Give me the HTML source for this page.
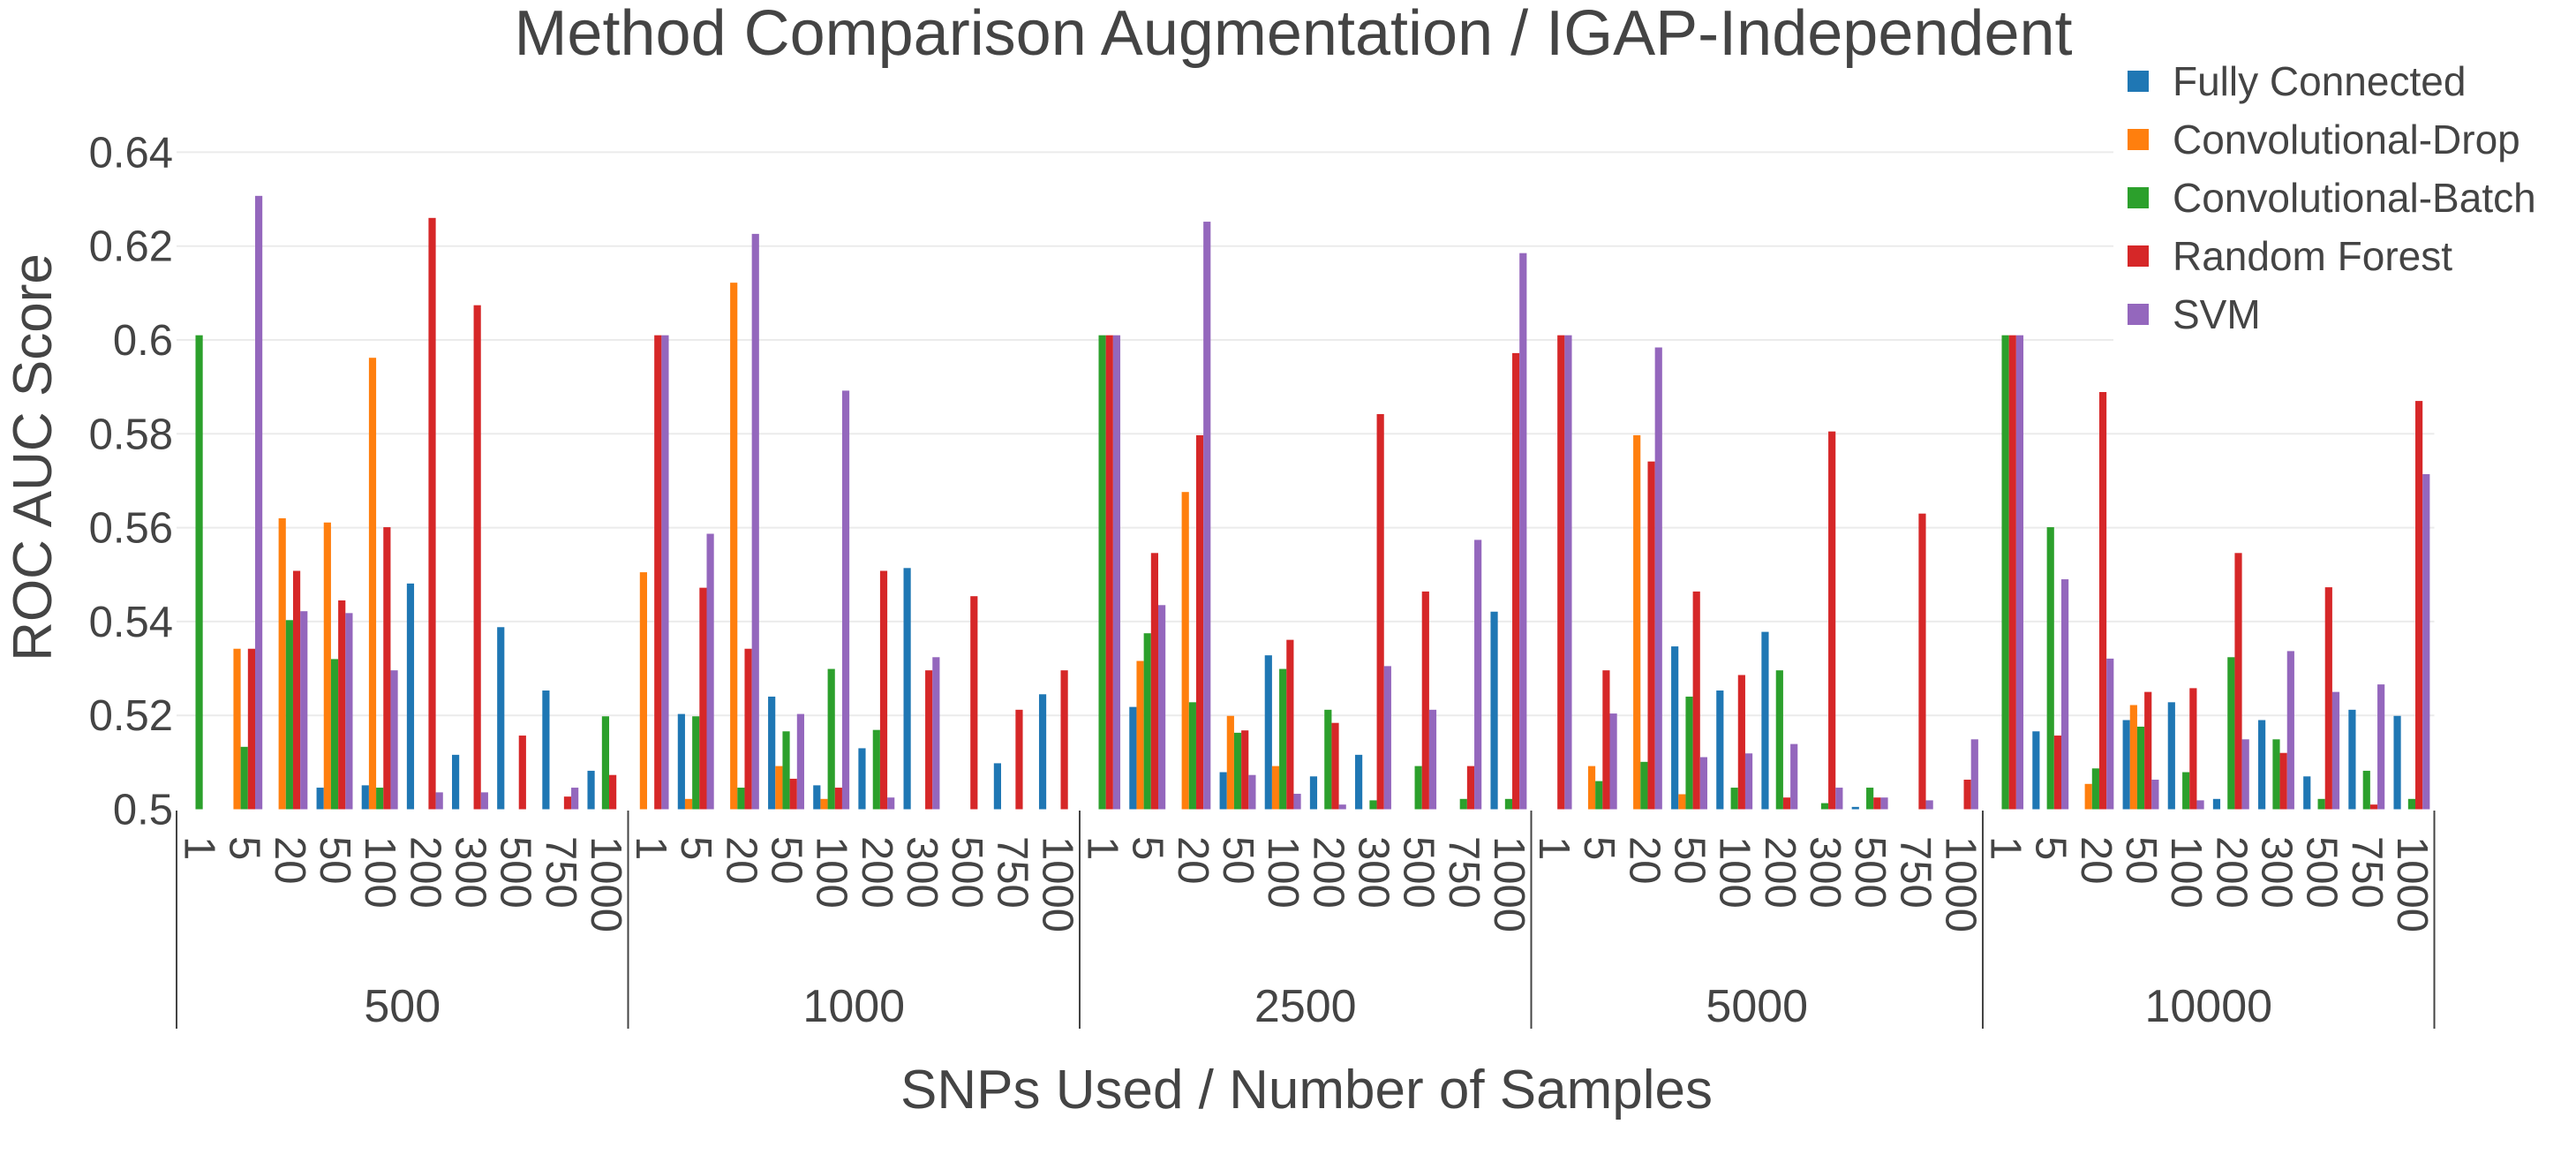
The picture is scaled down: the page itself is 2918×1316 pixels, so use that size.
<!DOCTYPE html>
<html><head><meta charset="utf-8"><style>
html,body{margin:0;padding:0;background:#fff;}
svg{display:block;font-family:"Liberation Sans",Arial,sans-serif;}
</style></head><body>
<svg id="chart" width="2918" height="1316" viewBox="0 0 2918 1316" xmlns="http://www.w3.org/2000/svg">
<rect width="2918" height="1316" fill="#fff"/>
<g id="grid"></g>
<g id="bars"></g>
<g id="xaxis"></g>
<g id="yaxis"></g>
<text x="1465" y="62" font-size="72" fill="#444" text-anchor="middle">Method Comparison Augmentation / IGAP-Independent</text>
<text transform="translate(58,518) rotate(-90)" font-size="62" fill="#444" text-anchor="middle">ROC AUC Score</text>
<text x="1480" y="1255" font-size="62" fill="#444" text-anchor="middle">SNPs Used / Number of Samples</text>
<g id="legend"></g>
</svg>
<script>
const groups = ["500","1000","2500","5000","10000"];
const snps = ["1","5","20","50","100","200","300","500","750","1000"];
const seriesNames = ["Fully Connected","Convolutional-Drop","Convolutional-Batch","Random Forest","SVM"];
const yTicks = [0.5,0.52,0.54,0.56,0.58,0.6,0.62,0.64];
const yTickLabels = ["0.5","0.52","0.54","0.56","0.58","0.6","0.62","0.64"];
const fullyConnected = [null,null,null,0.5046,0.5051,0.5481,0.5116,0.5388,0.5253,0.5082,
 null,0.5203,null,0.524,0.5051,0.513,0.5514,null,0.5098,0.5245,
 null,0.5218,null,0.5079,0.5328,0.507,0.5116,null,null,0.5421,
 null,null,null,0.5347,0.5253,0.5378,null,0.5005,null,null,
 null,0.5166,null,0.519,0.5228,0.5022,0.519,0.507,0.5212,0.5199];
const convDrop = [null,0.5342,0.562,0.5611,0.5962,null,null,null,null,null,
 0.5505,0.5022,0.6122,0.5092,0.5022,null,null,null,null,null,
 null,0.5316,0.5676,0.5199,0.5092,null,null,null,null,null,
 null,0.5092,0.5797,0.5032,null,null,null,null,null,null,
 null,null,0.5054,0.5222,null,null,null,null,null,null];
const convBatch = [0.601,0.5133,0.5403,0.532,0.5046,null,null,null,null,0.5198,
 null,0.5198,0.5046,0.5166,0.5299,0.5169,null,null,null,null,
 0.601,0.5375,0.5228,0.5163,0.5299,0.5212,0.5019,0.5092,0.5022,0.5022,
 null,0.506,0.5101,0.524,0.5046,0.5296,0.5013,0.5046,null,null,
 0.601,0.5601,0.5087,0.5176,0.5079,0.5324,0.5149,0.5022,0.5082,0.5022];
const randomForest = [null,0.5342,0.5508,0.5445,0.5601,0.626,0.6074,0.5157,0.5027,0.5073,
 0.601,0.5472,0.5342,0.5065,0.5046,0.5508,0.5296,0.5454,0.5212,0.5296,
 0.601,0.5546,0.5797,0.5168,0.5361,0.5184,0.5842,0.5464,0.5092,0.5972,
 0.601,0.5296,0.5741,0.5464,0.5286,0.5025,0.5805,0.5025,0.563,0.5063,
 0.601,0.5157,0.5889,0.525,0.5258,0.5546,0.512,0.5473,0.501,0.587];
const svm = [null,0.6307,0.5422,0.5418,0.5296,0.5036,0.5036,null,0.5046,null,
 0.601,0.5587,0.6226,0.5203,0.5892,0.5025,0.5324,null,null,null,
 0.601,0.5435,0.6252,0.5073,0.5033,0.501,0.5305,0.5212,0.5574,0.6185,
 0.601,0.5204,0.5984,0.5111,0.5119,0.5139,0.5046,0.5025,0.5019,0.5149,
 0.601,0.549,0.5321,0.5063,0.5019,0.5149,0.5337,0.525,0.5266,0.5714];

const seriesValues = [fullyConnected, convDrop, convBatch, randomForest, svm];
const colors = ["#1f77b4","#ff7f0e","#2ca02c","#d62728","#9467bd"];
const NS = "http://www.w3.org/2000/svg";
const X0 = 200, CAT_W = 51.15, Y_BASE = 916.5, PX_PER_UNIT = 106.3/0.02, Y_MIN = 0.5;
const nCats = groups.length * snps.length;
const X1 = X0 + nCats * CAT_W;
function yScale(v){ return Y_BASE - (v - Y_MIN) * PX_PER_UNIT; }
function xCat(i){ return X0 + i * CAT_W; }
function mk(tag, attrs, parent){ const e=document.createElementNS(NS,tag); for(const k in attrs) e.setAttribute(k, attrs[k]); parent.appendChild(e); return e; }

const grid = document.getElementById('grid');
const yaxis = document.getElementById('yaxis');
yTicks.forEach((t, i) => {
  const y = yScale(t);
  if (i > 0) {
    const right = y < 400 ? 2394 : X1;
    const l = mk('line', {x1:X0, x2:right, y1:y, y2:y, stroke:'#ebebeb', 'stroke-width':2}, grid);
    
    
  }
  const tx = mk('text', {x:196, y:y+17, 'font-size':49, fill:'#444', 'text-anchor':'end'}, yaxis);
  tx.textContent = yTickLabels[i];
  
  
});

const bars = document.getElementById('bars');
const barW = CAT_W * 0.8 / seriesValues.length;
seriesValues.forEach((vals, s) => {
  vals.forEach((v, i) => {
    if (v === null || v === undefined) return;
    const x = xCat(i) + CAT_W * 0.1 + s * barW;
    const y = yScale(v);
    const r = mk('rect', {x:x, y:y, width:barW, height:Math.max(0, Y_BASE - y), fill:colors[s]}, bars);
    
    
  });
});

const xaxis = document.getElementById('xaxis');
for (let g = 0; g < groups.length; g++) {
  snps.forEach((lab, c) => {
    const i = g * snps.length + c;
    const cx = xCat(i) + CAT_W / 2;
    const t = mk('text', {transform:`translate(${cx},947) rotate(90)`, 'font-size':49, fill:'#444', 'dominant-baseline':'central'}, xaxis);
    t.textContent = lab;
    
    
  });
  const gx = xCat(g * snps.length) + snps.length * CAT_W / 2;
  const gl = mk('text', {x:gx, y:1157, 'font-size':52, fill:'#444', 'text-anchor':'middle'}, xaxis);
  gl.textContent = groups[g];
  
  
}
for (let g = 0; g <= groups.length; g++) {
  const x = xCat(g * snps.length);
  const d = mk('line', {x1:x, x2:x, y1:918, y2:1165, stroke:'#444', 'stroke-width':2}, xaxis);
  
  
}

const legend = document.getElementById('legend');
seriesNames.forEach((n, s) => {
  const y = 92 + s * 66;
  const sq = mk('rect', {x:2410, y:y-12, width:24, height:24, fill:colors[s]}, legend);
  
  
  const t = mk('text', {x:2461, y:y+16, 'font-size':46, fill:'#444'}, legend);
  t.textContent = n;
  
  
});
</script>
</body></html>
